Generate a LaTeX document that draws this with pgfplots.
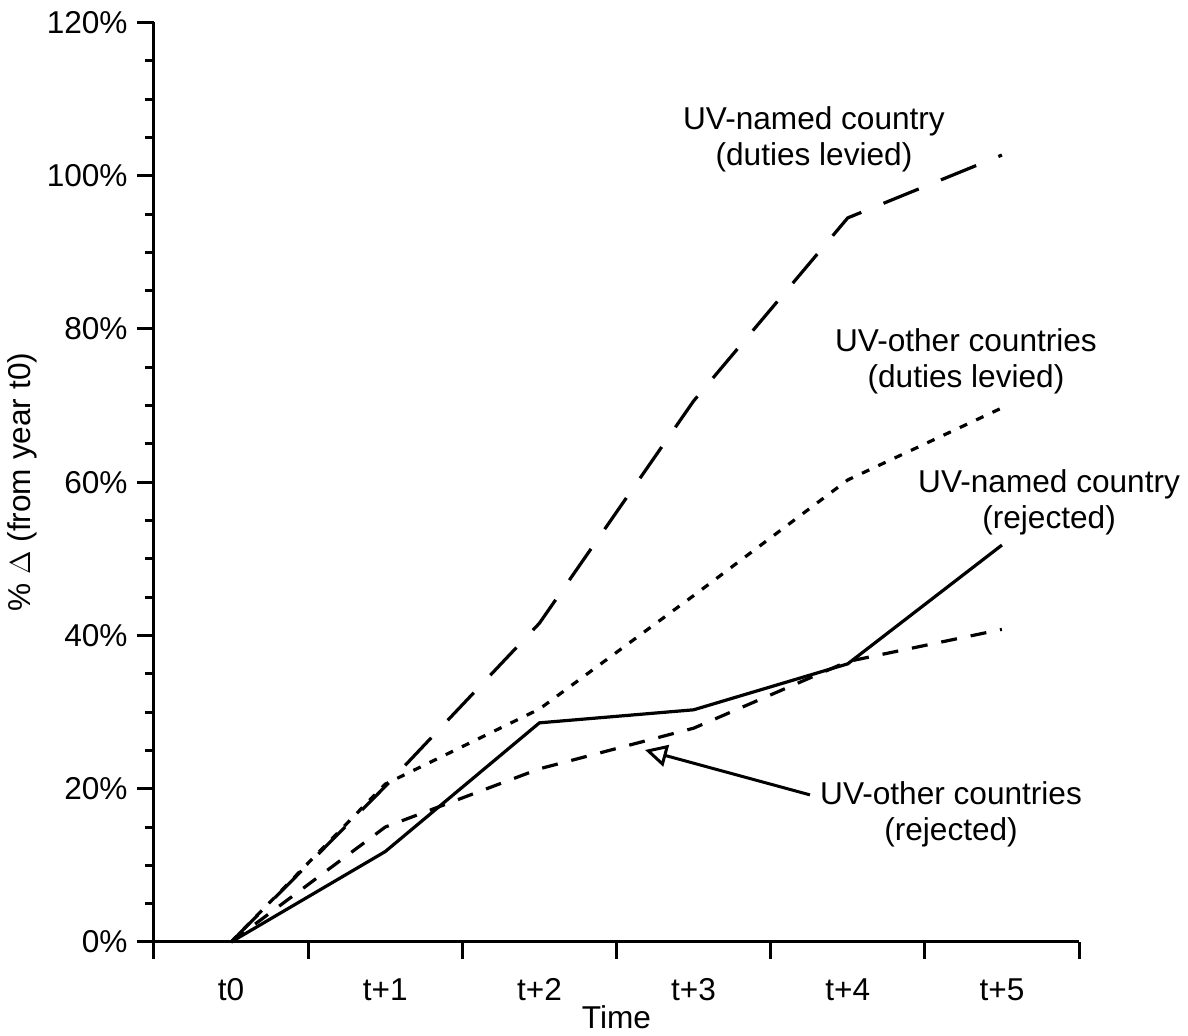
\documentclass[border=0pt]{standalone}
\usepackage{pgfplots}
\pgfplotsset{compat=1.18}
\usepackage{fontspec}
\setmainfont{Liberation Sans}
\usetikzlibrary{arrows.meta}
\begin{document}
\begin{tikzpicture}
\useasboundingbox (-77pt,-47pt) rectangle (517pt,471pt);
\begin{axis}[
  at={(0,0)}, anchor=south west,
  scale only axis, width=462.5pt, height=459.75pt,
  xmin=0, xmax=6, ymin=0, ymax=120,
  axis lines*=left,
  axis line style={line width=1.5pt},
  tick align=outside,
  every tick/.style={black, line width=1.5pt},
  major tick length=8.5pt, minor tick length=4.5pt,
  clip=false,
  font=\fontsize{15.8}{18}\selectfont,
  /pgf/number format/assume math mode=true,
  ytick={0,20,...,120},
  yticklabel={\pgfmathprintnumber{\tick}\%},
  minor y tick num=3,
  yticklabel style={font=\fontsize{15.8}{18}\selectfont, inner sep=0pt, xshift=-4.5pt},
  xtick={0,1,...,6}, xticklabels={},
  extra x ticks={0.5,1.5,...,5.5},
  extra x tick labels={t0,t+1,t+2,t+3,t+4,t+5},
  extra x tick style={major tick length=0pt, xticklabel style={font=\fontsize{15.8}{18}\selectfont, anchor=center, yshift=-24pt}},
  xlabel={Time},
  ylabel={\% $\Delta$ (from year t0)},
  every axis x label/.style={at={(axis description cs:0.5,0)}, anchor=center, yshift=-37.5pt, font=\fontsize{15.8}{18}\selectfont},
  every axis y label/.style={at={(axis description cs:-0.1427,0.5)}, anchor=center, rotate=90, font=\fontsize{15.8}{18}\selectfont},
]
% UV-named country (duties levied)
\addplot[black, line width=1.6pt, dash pattern=on 19pt off 12pt] coordinates {
  (0.5,0) (1.5,20.3) (2.5,41.6) (3.5,70.6) (4.5,94.5) (5.5,102.7)};
% UV-other countries (duties levied)
\addplot[black, line width=1.6pt, dash pattern=on 4pt off 5pt] coordinates {
  (0.5,0) (1.5,20.6) (2.5,30.4) (3.5,45.2) (4.5,60.3) (5.5,69.7)};
% UV-named country (rejected)
\addplot[black, line width=1.6pt] coordinates {
  (0.5,0) (1.5,11.8) (2.5,28.6) (3.5,30.3) (4.5,36.3) (5.5,51.8)};
% UV-other countries (rejected)
\addplot[black, line width=1.6pt, dash pattern=on 8pt off 7pt] coordinates {
  (0.5,0) (1.5,15.0) (2.5,22.6) (3.5,27.9) (4.5,36.6) (5.5,40.8)};

\node[align=center, font=\fontsize{15.8}{18}\selectfont] at (axis cs:4.281,104.7) {UV-named country\\(duties levied)};
\node[align=center, font=\fontsize{15.8}{18}\selectfont] at (axis cs:5.267,75.8) {UV-other countries\\(duties levied)};
\node[align=center, font=\fontsize{15.8}{18}\selectfont] at (axis cs:5.806,57.4) {UV-named country\\(rejected)};
\node[align=center, font=\fontsize{15.8}{18}\selectfont] at (axis cs:5.17,16.6) {UV-other countries\\(rejected)};
\draw[line width=1.5pt, -{Triangle[open, length=11pt, width=11pt, line width=1.5pt]}] (axis cs:4.255,19.2) -- (axis cs:3.185,25.06);
\end{axis}
\end{tikzpicture}
\end{document}
